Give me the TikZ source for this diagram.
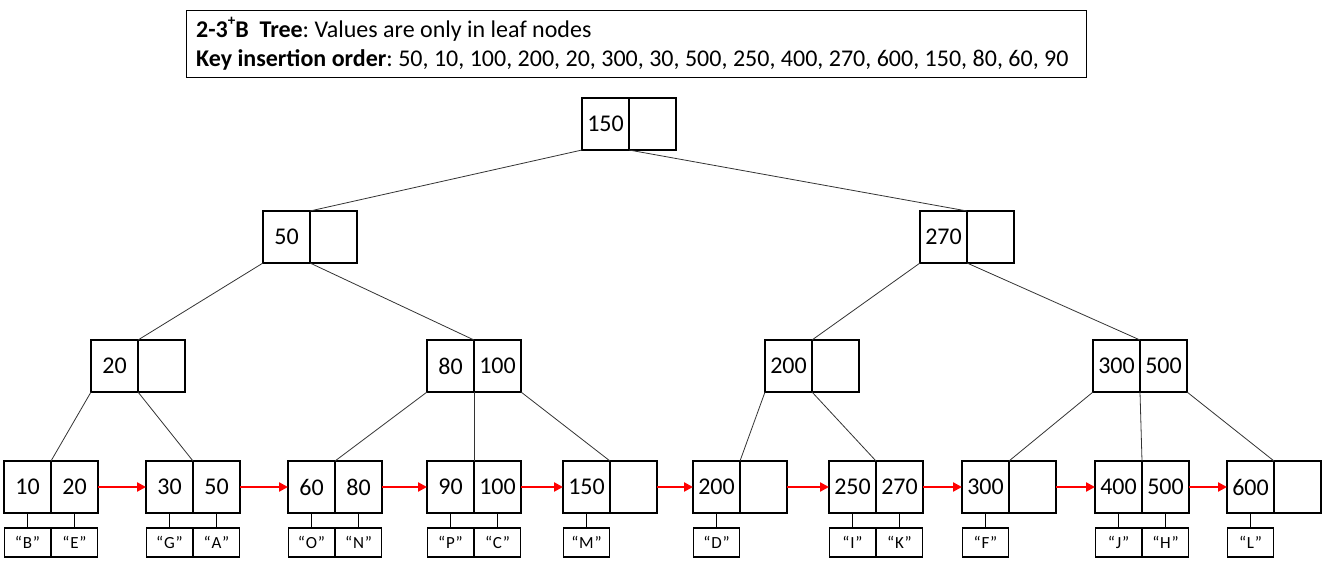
\documentclass[tikz,border=0pt]{standalone}
\usepackage{fontspec}
\setmainfont{Carlito}
\usetikzlibrary{positioning,arrows.meta}

\tikzset{
  cell/.style={draw, line width=1.1pt, minimum width=47pt, minimum height=52pt,
    inner sep=0pt, outer sep=0pt, font=\fontsize{24}{24}\selectfont},
  tag/.style={draw, line width=1.1pt, minimum width=46pt, minimum height=29pt,
    inner sep=0pt, outer sep=0pt, font=\fontsize{17}{17}\selectfont},
  edge/.style={line width=0.8pt, draw=black!80},
  link/.style={red, line width=2.4pt, -{Triangle[length=9pt,width=9pt]}}
}

\begin{document}
\frenchspacing
\begin{tikzpicture}[x=1pt, y=-1pt]
    \useasboundingbox (0,0) rectangle (1323,567);

    % heading
    \node (head) [draw, line width=1.1pt, anchor=north west, minimum width=900pt,
        minimum height=67pt] at (186,10) {};
    \node (headtext) [anchor=west, align=left, inner sep=0pt,
        font=\fontsize{24}{29}\selectfont] at ([xshift=10pt]head.west)
        {{\bfseries 2-3\raisebox{0.5em}{\fontsize{15}{15}\selectfont+}B\ \ Tree}: Values are only in leaf nodes\\
         {\bfseries Key insertion order}: 50, 10, 100, 200, 20, 300, 30, 500, 250, 400, 270, 600, 150, 80, 60, 90};

    % root and inner nodes
    \node[cell, anchor=north west] (n150) at (582,98) {150};
    \node[cell, right=0pt of n150] (n150x) {};
    \node[cell, anchor=north west] (n50) at (263,211) {50};
    \node[cell, right=0pt of n50] (n50x) {};
    \node[cell, anchor=north west] (n270) at (920,211) {270};
    \node[cell, right=0pt of n270] (n270x) {};
    \node[cell, anchor=north west] (n20) at (91,340) {20};
    \node[cell, right=0pt of n20] (n20x) {};
    \node[cell, anchor=north west] (n80) at (427,340) {80};
    \node[cell, right=0pt of n80] (n100) {100};
    \node[cell, anchor=north west] (n200) at (765,340) {200};
    \node[cell, right=0pt of n200] (n200x) {};
    \node[cell, anchor=north west] (n300) at (1093,340) {300};
    \node[cell, right=0pt of n300] (n500) {500};

    % leaves
    \node[cell, anchor=north west] (f10) at (4,461) {10};
    \node[cell, right=0pt of f10] (f20) {20};
    \node[cell, anchor=north west] (f30) at (146,461) {30};
    \node[cell, right=0pt of f30] (f50) {50};
    \node[cell, anchor=north west] (f60) at (288,461) {60};
    \node[cell, right=0pt of f60] (f80) {80};
    \node[cell, anchor=north west] (f90) at (427,461) {90};
    \node[cell, right=0pt of f90] (f100) {100};
    \node[cell, anchor=north west] (f150) at (563,461) {150};
    \node[cell, right=0pt of f150] (f150x) {};
    \node[cell, anchor=north west] (f200) at (693,461) {200};
    \node[cell, right=0pt of f200] (f200x) {};
    \node[cell, anchor=north west] (f250) at (829,461) {250};
    \node[cell, right=0pt of f250] (f270) {270};
    \node[cell, anchor=north west] (f300) at (962,461) {300};
    \node[cell, right=0pt of f300] (f300x) {};
    \node[cell, anchor=north west] (f400) at (1095,461) {400};
    \node[cell, right=0pt of f400] (f500) {500};
    \node[cell, anchor=north west] (f600) at (1227,461) {600};
    \node[cell, right=0pt of f600] (f600x) {};

    % values
    \foreach \c/\v in {f10/B, f20/E, f30/G, f50/A, f60/O, f80/N, f90/P, f100/C,
                       f150/M, f200/D, f250/I, f270/K, f300/F, f400/J, f500/H, f600/L}
    {
        \node[tag, below=15pt of \c] (v\v) {“\kern0.8pt\v\kern0.8pt”};
        \draw[line width=1.1pt] (\c.south) -- (v\v.north);
    }

    % child pointers
    \draw[edge] (n150.south west) -- (n50x.north west);
    \draw[edge] (n150x.south west) -- (n270x.north west);
    \draw[edge] (n50.south west) -- (n20x.north west);
    \draw[edge] (n50x.south west) -- (n100.north west);
    \draw[edge] (n270.south west) -- (n200x.north west);
    \draw[edge] (n270x.south west) -- (n500.north west);
    \draw[edge] (n20.south west) -- (f20.north west);
    \draw[edge] (n20x.south west) -- (f50.north west);
    \draw[edge] (n80.south west) -- (f80.north west);
    \draw[edge] (n100.south west) -- (f100.north west);
    \draw[edge] (n100.south east) -- (f150x.north west);
    \draw[edge] (n200.south west) -- (f200x.north west);
    \draw[edge] (n200x.south west) -- (f270.north west);
    \draw[edge] (n300.south west) -- (f300x.north west);
    \draw[edge] (n500.south west) -- (f500.north west);
    \draw[edge] (n500.south east) -- (f600x.north west);

    % leaf chain
    \draw[link] (f20.east) -- (f30.west);
    \draw[link] (f50.east) -- (f60.west);
    \draw[link] (f80.east) -- (f90.west);
    \draw[link] (f100.east) -- (f150.west);
    \draw[link] (f150x.east) -- (f200.west);
    \draw[link] (f200x.east) -- (f250.west);
    \draw[link] (f270.east) -- (f300.west);
    \draw[link] (f300x.east) -- (f400.west);
    \draw[link] (f500.east) -- (f600.west);
\end{tikzpicture}
\end{document}
